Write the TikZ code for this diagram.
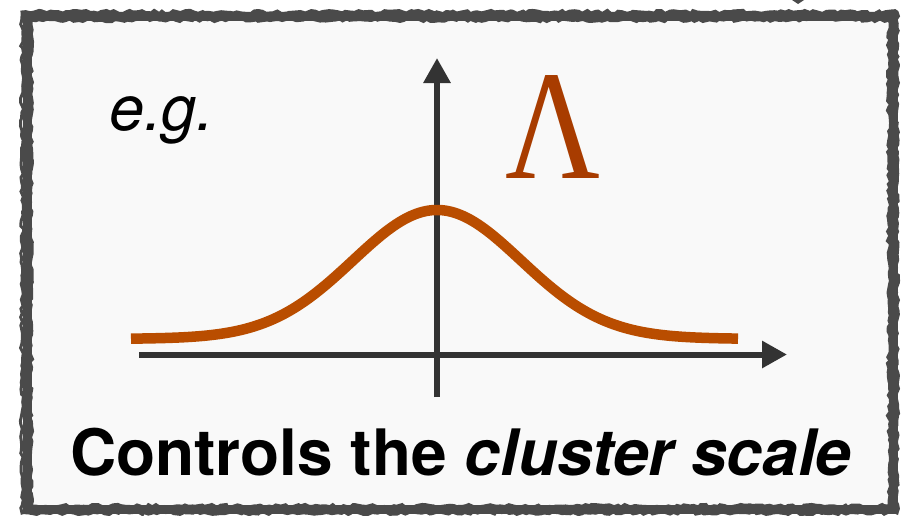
\documentclass[tikz,border=0pt]{standalone}
\usepackage{fontspec}
\setmainfont{TeX Gyre Heros}
\setsansfont{TeX Gyre Heros}
\newfontfamily\lamfont{Liberation Serif}
\usetikzlibrary{arrows.meta,decorations.pathmorphing}
\definecolor{boxgrey}{HTML}{4A4A4A}
\definecolor{boxfill}{HTML}{F9F9F9}
\definecolor{axisgrey}{HTML}{333333}
\definecolor{curveorange}{HTML}{B94D00}
\definecolor{lambdared}{HTML}{A83C00}
\tikzset{
  axis/.style={draw=axisgrey, line width=6pt, -{Triangle[length=25pt,width=26pt]}},
  bell/.style={draw=curveorange, line width=10.5pt, line cap=butt},
  rough/.style={draw=boxgrey, decorate, decoration={random steps, segment length=4pt, amplitude=1.6pt}},
  txt/.style={inner sep=0pt, outer sep=0pt, anchor=base west, text=black}
}
\begin{document}
\begin{tikzpicture}[x=1pt,y=-1pt]
\pgfmathsetseed{7}
\useasboundingbox (0,0) rectangle (905,515);
% box
\fill[boxfill] (27,16) rectangle (893,509);
\draw[draw=boxgrey, line width=9pt] (27,16) rectangle (893,509);
\draw[rough, line width=3pt] (22,12) -- (897,12) -- (897,513) -- (22,513) -- cycle;
\draw[rough, line width=3pt] (31,20) -- (889,20) -- (889,506) -- (31,506) -- cycle;
\draw[rough, line width=2pt] (26,15) -- (894,15) -- (894,510) -- (26,510) -- cycle;
% small mark at top edge
\fill[boxgrey] (792,0) -- (804,0) -- (798,4) -- cycle;
% axes
\coordinate (xs) at (139,354.5);
\coordinate (xe) at (787,354.5);
\coordinate (ys) at (437,397);
\coordinate (ye) at (437,58);
\draw[axis] (xs) -- (xe);
\draw[axis] (ys) -- (ye);
% bell curve
\draw[bell] plot[domain=131:738, samples=120, smooth]
  (\x, {340 - 128*exp(-0.5*((\x-437)/84)^2) - 2*exp(-0.5*((\x-437)/300)^2)});
% labels
\node[txt, font=\fontsize{63}{63}\selectfont\itshape] (eg) at (109,130) {e.g.};
\node[inner sep=0pt, anchor=base, text=lambdared, xscale=0.84] (lam) at (553.5,178) {\lamfont\fontsize{156}{156}\selectfont Λ};
\node[txt, font=\fontsize{64}{64}\selectfont\bfseries] (cap) at (70,475) {Controls the \textit{cluster scale}};
\end{tikzpicture}
\end{document}
